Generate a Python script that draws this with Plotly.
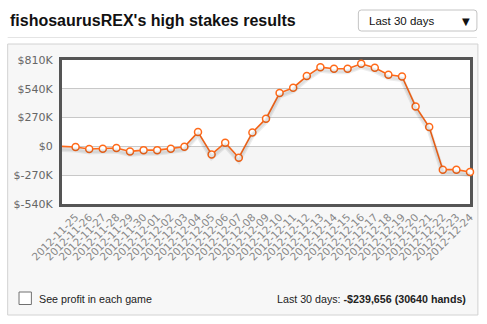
import plotly.graph_objects as go

# ---------------- data ----------------
dates = ["2012-11-25", "2012-11-26", "2012-11-27", "2012-11-28", "2012-11-29", "2012-11-30",
         "2012-12-01", "2012-12-02", "2012-12-03", "2012-12-04", "2012-12-05", "2012-12-06",
         "2012-12-07", "2012-12-08", "2012-12-09", "2012-12-10", "2012-12-11", "2012-12-12",
         "2012-12-13", "2012-12-14", "2012-12-15", "2012-12-16", "2012-12-17", "2012-12-18",
         "2012-12-19", "2012-12-20", "2012-12-21", "2012-12-22", "2012-12-23", "2012-12-24"]
start_value = 0
profit = [-5000, -25000, -22000, -15000, -47000, -35000,
          -35000, -22000, -3000, 134000, -75000, 35000,
          -106000, 131000, 260000, 500000, 550000, 659000,
          743000, 728000, 728000, 775000, 738000, 672000,
          656000, 375000, 181000, -218000, -218000, -239656]
y_ticks = [810000, 540000, 270000, 0, -270000, -540000]
y_ticktext = ["$810K", "$540K", "$270K", "$0", "$-270K", "$-540K"]
title_text = "fishosaurusREX's high stakes results"
period_text = "Last 30 days"
checkbox_text = "See profit in each game"
summary_label = "Last 30 days: "
summary_value = "-$239,656 (30640 hands)"

# ---------------- layout geometry ----------------
W, H = 487, 324
L, R, T, B = 62, 12, 60, 120
PW, PH = W - L - R, H - T - B

def px(p):
    return (p - L) / PW

def py(p):
    return (H - B - p) / PH

line_color = "#ff6a1a"
all_vals = [start_value] + profit
xs = list(range(len(all_vals)))

# shadow axis: same scale, shifted down by a few pixels
yr = [y_ticks[-1], y_ticks[0]]
shift = 3 * (yr[1] - yr[0]) / PH
yr_shadow = [yr[0] + shift, yr[1] + shift]

fig = go.Figure()
fig.add_trace(go.Scatter(x=xs, y=all_vals, mode="lines", yaxis="y2",
                         line=dict(color="rgba(0,0,0,0.07)", width=5),
                         hoverinfo="skip", showlegend=False))
fig.add_trace(go.Scatter(x=xs, y=all_vals, mode="lines", yaxis="y2",
                         line=dict(color="rgba(0,0,0,0.06)", width=2.5),
                         hoverinfo="skip", showlegend=False))
fig.add_trace(go.Scatter(x=xs, y=all_vals, mode="lines",
                         line=dict(color=line_color, width=1.6),
                         hoverinfo="skip", cliponaxis=False, showlegend=False))
fig.add_trace(go.Scatter(x=xs[1:], y=profit, mode="markers",
                         marker=dict(size=7, color="white",
                                     line=dict(color=line_color, width=1.5)),
                         cliponaxis=False, showlegend=False))

shapes = []
# panel
shapes.append(dict(type="rect", xref="paper", yref="paper",
                   x0=px(7), x1=px(483), y0=py(44), y1=py(315),
                   fillcolor="#f7f7f7", line=dict(color="#d2d2d2", width=1), layer="below"))
# plot area white
shapes.append(dict(type="rect", xref="paper", yref="paper", x0=0, x1=1, y0=0, y1=1,
                   fillcolor="white", line=dict(width=0), layer="below"))
# alternating bands
ys_sorted = sorted(y_ticks)
for i in range(len(ys_sorted) - 1):
    if i % 2 == 1:
        shapes.append(dict(type="rect", xref="paper", yref="y", x0=0, x1=1,
                           y0=ys_sorted[i], y1=ys_sorted[i + 1],
                           fillcolor="#f5f5f5", line=dict(width=0), layer="below"))
# separator line under title
shapes.append(dict(type="line", xref="paper", yref="paper", x0=px(7), x1=px(482),
                   y0=py(37.5), y1=py(37.5), line=dict(color="#e4e4e4", width=1)))
# dropdown rounded box
x0d, x1d, y0d, y1d, r = px(362), px(482), py(10), py(31), 3
rx, ry = r / PW, r / PH
path = (f"M {x0d+rx},{y0d} L {x1d-rx},{y0d} Q {x1d},{y0d} {x1d},{y0d-ry} "
        f"L {x1d},{y1d+ry} Q {x1d},{y1d} {x1d-rx},{y1d} L {x0d+rx},{y1d} "
        f"Q {x0d},{y1d} {x0d},{y1d+ry} L {x0d},{y0d-ry} Q {x0d},{y0d} {x0d+rx},{y0d} Z")
shapes.append(dict(type="path", xref="paper", yref="paper", path=path,
                   fillcolor="white", line=dict(color="#c4c4c4", width=1)))
# checkbox
shapes.append(dict(type="rect", xref="paper", yref="paper",
                   x0=px(18.5), x1=px(31), y0=py(292), y1=py(304.5),
                   fillcolor="white", line=dict(color="#707070", width=1)))

annotations = [
    dict(text=f"<b>{title_text}</b>", x=px(7), y=py(20.5), xref="paper", yref="paper",
         xanchor="left", yanchor="middle", showarrow=False,
         font=dict(family="Liberation Sans, Arial", size=16, color="#111")),
    dict(text=period_text, x=px(370.5), y=py(21), xref="paper", yref="paper",
         xanchor="left", yanchor="middle", showarrow=False,
         font=dict(family="Liberation Sans, Arial", size=11.5, color="#111")),
    dict(text="▼", x=px(471), y=py(21), xref="paper", yref="paper",
         xanchor="center", yanchor="middle", showarrow=False,
         font=dict(family="DejaVu Sans", size=10, color="#111")),
    dict(text=checkbox_text, x=px(36.5), y=py(298.5), xref="paper", yref="paper",
         xanchor="left", yanchor="middle", showarrow=False,
         font=dict(family="Liberation Sans, Arial", size=10.7, color="#222")),
    dict(text=f"{summary_label}<b>{summary_value}</b>", x=px(473), y=py(298.5),
         xref="paper", yref="paper", xanchor="right", yanchor="middle", showarrow=False,
         font=dict(family="Liberation Sans, Arial", size=10.7, color="#222")),
]

fig.update_layout(
    width=W, height=H, autosize=False,
    margin=dict(l=L, r=R, t=T, b=B, pad=0),
    paper_bgcolor="white", plot_bgcolor="rgba(0,0,0,0)",
    shapes=shapes, annotations=annotations, showlegend=False,
    xaxis=dict(range=[xs[0], xs[-1]], tickmode="array", tickvals=xs[1:], ticktext=dates,
               tickangle=-45, showgrid=False, zeroline=False, showline=True, mirror=True,
               linecolor="#555", linewidth=3, ticks="", layer="below traces",
               tickfont=dict(family="DejaVu Sans, Verdana", size=10.5, color="#888")),
    yaxis=dict(range=yr, tickmode="array", tickvals=y_ticks,
               ticktext=y_ticktext, showgrid=True, gridcolor="#c8c8c8", gridwidth=1,
               zeroline=False, showline=True, mirror=True, linecolor="#555", linewidth=3,
               ticks="", ticklabelstandoff=4, layer="below traces",
               tickfont=dict(family="DejaVu Sans, Verdana", size=11, color="#666")),
    yaxis2=dict(range=yr_shadow, overlaying="y", visible=False, showgrid=False,
                zeroline=False, fixedrange=True),
)

fig.write_html("out.html")
